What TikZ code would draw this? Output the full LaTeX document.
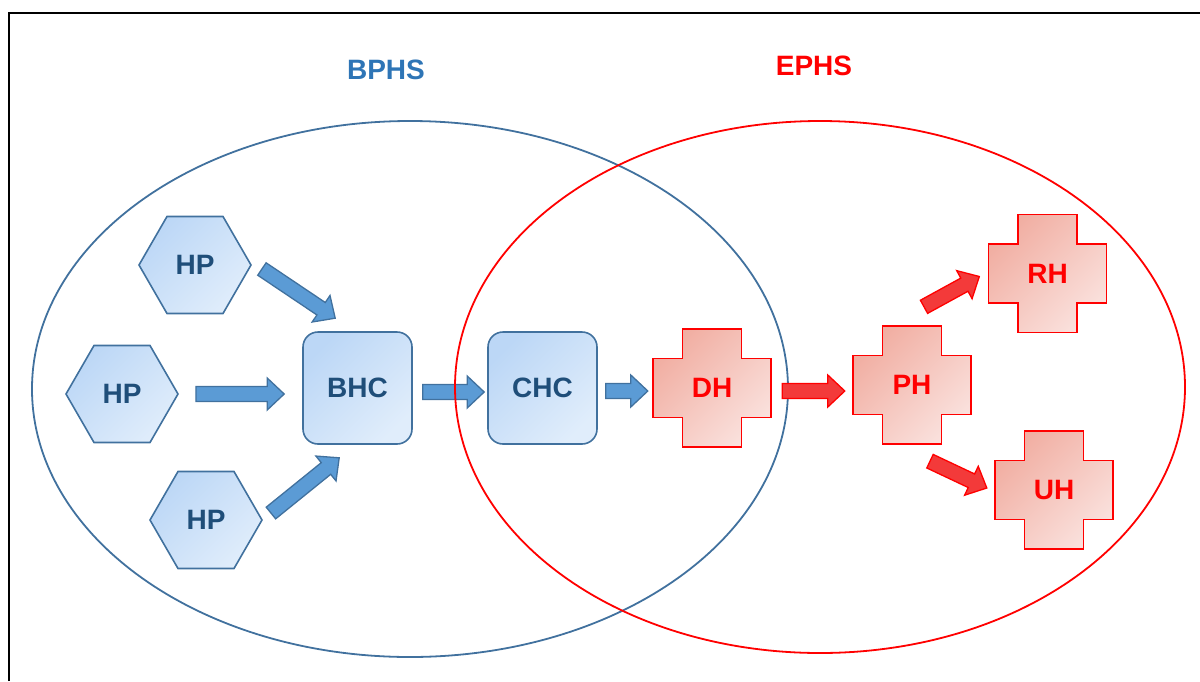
\documentclass[tikz,border=0pt]{standalone}
\usepackage{fontspec}
\setmainfont{Liberation Sans}
\usepackage{tikz}
\usetikzlibrary{calc,shapes.geometric}

\definecolor{bphsline}{RGB}{65,113,158}
\definecolor{bphstext}{RGB}{46,117,182}
\definecolor{boxtext}{RGB}{31,78,121}
\definecolor{boxtop}{RGB}{188,215,246}
\definecolor{boxbot}{RGB}{224,237,251}
\definecolor{arrowblue}{RGB}{91,155,213}
\definecolor{hosptop}{RGB}{241,174,162}
\definecolor{hospbot}{RGB}{250,225,221}
\definecolor{arrowred}{RGB}{243,58,58}

\newcommand{\bigbf}{\fontsize{28}{30}\selectfont\bfseries}

\tikzset{
	hexa/.style={regular polygon, regular polygon sides=6, minimum size=112pt, inner sep=0pt,
		draw=bphsline, line width=1.6pt, top color=boxtop, bottom color=boxbot, shading angle=45,
		font=\bigbf, text=boxtext},
	centre/.style={rectangle, rounded corners=15pt, minimum width=109pt, minimum height=112pt,
		draw=bphsline, line width=1.6pt, top color=boxtop, bottom color=boxbot, shading angle=45,
		font=\bigbf, text=boxtext},
	hospbox/.style={minimum size=118pt, inner sep=0pt, font=\bigbf, text=red},
	hospfill/.style={draw=red, line width=1.6pt, top color=hosptop, bottom color=hospbot, shading angle=45},
	bluearrow/.style={draw=bphsline, fill=arrowblue, line width=1.3pt},
	redarrow/.style={draw=red, fill=arrowred, line width=1.3pt},
}

% block arrow from #2 to #3
\newcommand{\fatarrow}[3]{%
	\coordinate (fa-s) at #2;
	\coordinate (fa-e) at #3;
	\coordinate (fa-h) at ($(fa-e)!17pt!(fa-s)$);
	\draw[#1] ($(fa-s)!7.5pt!90:(fa-e)$) -- ($(fa-h)!7.5pt!90:(fa-e)$) -- ($(fa-h)!16pt!90:(fa-e)$)
		-- (fa-e) -- ($(fa-h)!16pt!-90:(fa-e)$) -- ($(fa-h)!7.5pt!-90:(fa-e)$) -- ($(fa-s)!7.5pt!-90:(fa-e)$) -- cycle;
}

% cross shaped hospital with its label
\newcommand{\hospital}[3]{%
	\draw[hospfill, shift={#2}] (-29.5,-59) -- (29.5,-59) -- (29.5,-29.5) -- (59,-29.5) -- (59,29.5)
		-- (29.5,29.5) -- (29.5,59) -- (-29.5,59) -- (-29.5,29.5) -- (-59,29.5) -- (-59,-29.5) -- (-29.5,-29.5) -- cycle;
	\node[hospbox] (#1) at #2 {#3};
}

\begin{document}
\begin{tikzpicture}[x=1pt,y=-1pt]
	\useasboundingbox (0,0) rectangle (1200,681);
	\draw[line width=2.2pt] (9,681) -- (9,13) -- (1200,13);

	% BPHS
	\draw[bphsline, line width=1.8pt] (410,389) ellipse [x radius=378, y radius=268];
	\node[font=\bigbf, text=bphstext] (bphs) at (386,70) {BPHS};

	\node[hexa] (hpa) at (195,265) {HP};
	\node[hexa] (hpb) at (122,394) {HP};
	\node[hexa] (hpc) at (206,520) {HP};
	\node[centre] (bhc) at (357.5,388) {BHC};
	\node[centre] (chc) at (542.5,388) {CHC};

	\fatarrow{bluearrow}{($(hpa.east)+(10,4)$)}{($(bhc.north west)+(33,-13)$)}
	\fatarrow{bluearrow}{($(hpb.east)+(17,0)$)}{($(bhc.west)+(-18,6)$)}
	\fatarrow{bluearrow}{($(hpc.east)+(8,-7)$)}{($(bhc.south west)+(37,13)$)}
	\fatarrow{bluearrow}{($(bhc.east)+(10,4)$)}{($(chc.west)+(-3,4)$)}

	% EPHS
	\draw[red, line width=1.8pt] (820,387) ellipse [x radius=365, y radius=266];
	\node[font=\bigbf, text=red] (ephs) at (814,66) {EPHS};

	\hospital{dh}{(712,388)}{DH}
	\hospital{ph}{(912,385)}{PH}
	\hospital{rh}{(1047.5,273.5)}{RH}
	\hospital{uh}{(1054,490)}{UH}

	\fatarrow{bluearrow}{($(chc.east)+(8,3)$)}{($(dh.west)+(-5,3)$)}
	\fatarrow{redarrow}{($(dh.east)+(11,3)$)}{($(ph.west)+(-8,6)$)}
	\fatarrow{redarrow}{($(ph.north)+(12,-19)$)}{($(rh.west)+(-9,3)$)}
	\fatarrow{redarrow}{($(ph.south)+(18,17)$)}{($(uh.west)+(-8,-2)$)}
\end{tikzpicture}
\end{document}
